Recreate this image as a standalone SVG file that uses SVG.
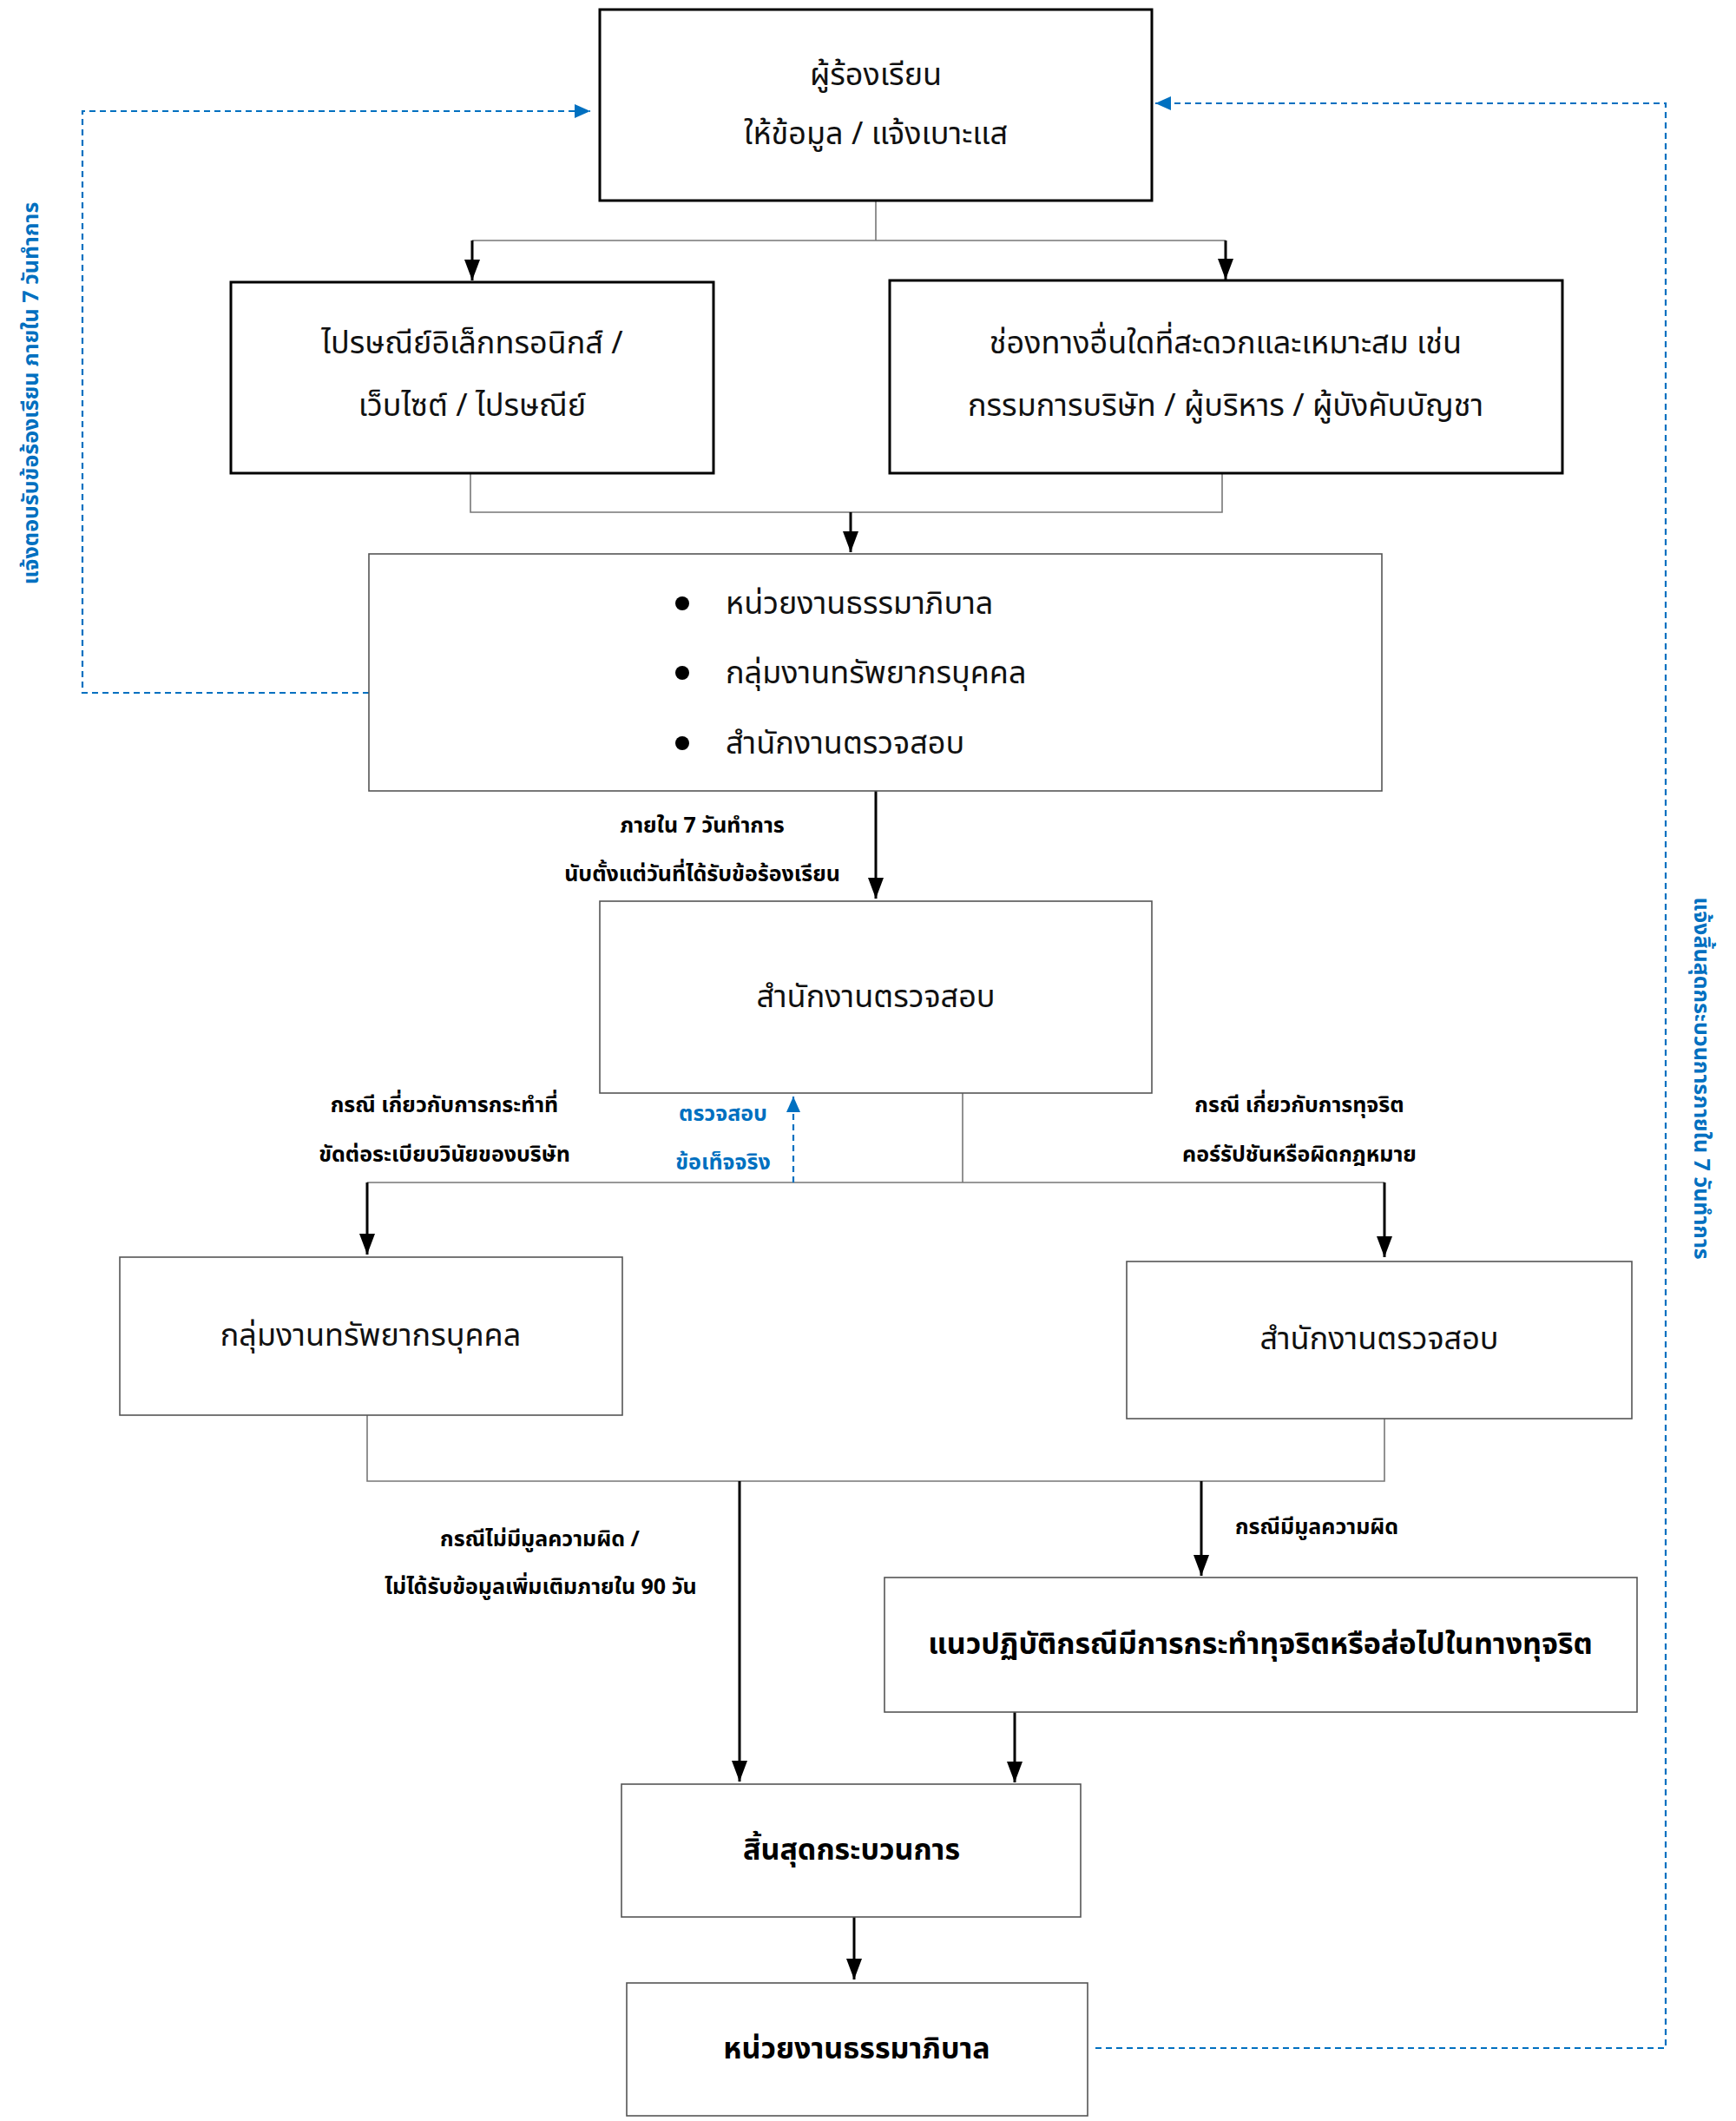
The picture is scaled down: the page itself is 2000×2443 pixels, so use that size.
<svg xmlns="http://www.w3.org/2000/svg" width="2000" height="2443" viewBox="0 0 2000 2443">
<defs>
<style>
.thick{fill:#fff;stroke:#000;stroke-width:3}
.thin{fill:#fff;stroke:#555;stroke-width:1.6}
.conn{fill:none;stroke:#777;stroke-width:1.6}
.arr{fill:none;stroke:#000;stroke-width:3}
.dash{fill:none;stroke:#0070C0;stroke-width:2.2;stroke-dasharray:7 5}
text{font-family:"Noto Sans Thai","Noto Sans","DejaVu Sans",sans-serif;text-anchor:middle;dominant-baseline:central}
.t{font-size:36px;fill:#111}
.b{font-size:34px;font-weight:bold;fill:#000}
.l{font-size:25px;font-weight:bold;fill:#000}
.bl{font-size:25px;font-weight:bold;fill:#0070C0}
.left{text-anchor:start}
</style>
<marker id="ah" markerUnits="userSpaceOnUse" markerWidth="24" markerHeight="18" refX="24" refY="9" orient="auto" viewBox="0 0 24 18">
<path d="M0,0 L24,9 L0,18 Z" fill="#000"/>
</marker>
<marker id="bh" markerUnits="userSpaceOnUse" markerWidth="18" markerHeight="16" refX="18" refY="8" orient="auto" viewBox="0 0 18 16">
<path d="M0,0 L18,8 L0,16 Z" fill="#0070C0"/>
</marker>
</defs>
<rect width="2000" height="2443" fill="#fff"/>

<g id="connectors">
<path class="conn" d="M1009,231 V277 M544,277 H1412"/>
<path class="arr" d="M544,277 V323" marker-end="url(#ah)"/>
<path class="arr" d="M1412,277 V322" marker-end="url(#ah)"/>
<path class="conn" d="M542,545 V590 H1408 V545"/>
<path class="arr" d="M980,590 V636" marker-end="url(#ah)"/>
<path class="dash" d="M425,798 H95 V128 H680" marker-end="url(#bh)"/>
<path class="arr" d="M1009,911 V1035" marker-end="url(#ah)"/>
<path class="conn" d="M1109,1259 V1362 M423,1362 H1595"/>
<path class="arr" d="M423,1362 V1445" marker-end="url(#ah)"/>
<path class="arr" d="M1595,1362 V1448" marker-end="url(#ah)"/>
<path class="dash" d="M914,1362 V1263" marker-end="url(#bh)"/>
<path class="conn" d="M423,1630 V1706 H1595 V1634"/>
<path class="arr" d="M852,1706 V2052" marker-end="url(#ah)"/>
<path class="arr" d="M1384,1706 V1815" marker-end="url(#ah)"/>
<path class="arr" d="M1169,1972 V2053" marker-end="url(#ah)"/>
<path class="arr" d="M984,2208 V2280" marker-end="url(#ah)"/>
<path class="dash" d="M1262,2359 H1919 V119 H1331" marker-end="url(#bh)"/>
</g>

<g id="n-complainant">
<rect class="thick" x="691" y="11" width="636" height="220"/>
<text class="t" x="1009" y="87">ผู้ร้องเรียน</text>
<text class="t" x="1009" y="155">ให้ข้อมูล / แจ้งเบาะแส</text>
</g>

<g id="n-email">
<rect class="thick" x="266" y="325" width="556" height="220"/>
<text class="t" x="544" y="396">ไปรษณีย์อิเล็กทรอนิกส์ /</text>
<text class="t" x="544" y="468">เว็บไซต์ / ไปรษณีย์</text>
</g>

<g id="n-other">
<rect class="thick" x="1025" y="323" width="775" height="222"/>
<text class="t" x="1412" y="396">ช่องทางอื่นใดที่สะดวกและเหมาะสม เช่น</text>
<text class="t" x="1412" y="468">กรรมการบริษัท / ผู้บริหาร / ผู้บังคับบัญชา</text>
</g>

<g id="n-units">
<rect class="thin" x="425" y="638" width="1167" height="273"/>
<circle cx="786" cy="695" r="8" fill="#000"/>
<circle cx="786" cy="775" r="8" fill="#000"/>
<circle cx="786" cy="856" r="8" fill="#000"/>
<text class="t left" x="836" y="696">หน่วยงานธรรมาภิบาล</text>
<text class="t left" x="836" y="776">กลุ่มงานทรัพยากรบุคคล</text>
<text class="t left" x="836" y="857">สำนักงานตรวจสอบ</text>
</g>

<g id="lbl-7days">
<text class="l" x="809" y="951">ภายใน 7 วันทำการ</text>
<text class="l" x="809" y="1007">นับตั้งแต่วันที่ได้รับข้อร้องเรียน</text>
</g>

<g id="n-audit">
<rect class="thin" x="691" y="1038" width="636" height="221"/>
<text class="t" x="1009" y="1149">สำนักงานตรวจสอบ</text>
</g>

<g id="lbl-cases">
<text class="l" x="512" y="1273">กรณี เกี่ยวกับการกระทำที่</text>
<text class="l" x="512" y="1330">ขัดต่อระเบียบวินัยของบริษัท</text>
<text class="l" x="1497" y="1273">กรณี เกี่ยวกับการทุจริต</text>
<text class="l" x="1497" y="1330">คอร์รัปชันหรือผิดกฎหมาย</text>
<text class="bl" x="833" y="1283">ตรวจสอบ</text>
<text class="bl" x="833" y="1339">ข้อเท็จจริง</text>
</g>

<g id="n-hr">
<rect class="thin" x="138" y="1448" width="579" height="182"/>
<text class="t" x="427" y="1539">กลุ่มงานทรัพยากรบุคคล</text>
</g>

<g id="n-audit2">
<rect class="thin" x="1298" y="1453" width="582" height="181"/>
<text class="t" x="1589" y="1543">สำนักงานตรวจสอบ</text>
</g>

<g id="lbl-results">
<text class="l" x="622" y="1773">กรณีไม่มีมูลความผิด /</text>
<text class="l" x="623" y="1828">ไม่ได้รับข้อมูลเพิ่มเติมภายใน 90 วัน</text>
<text class="l left" x="1423" y="1759">กรณีมีมูลความผิด</text>
</g>

<g id="n-guideline">
<rect class="thin" x="1019" y="1817" width="867" height="155"/>
<text class="b" x="1452" y="1894">แนวปฏิบัติกรณีมีการกระทำทุจริตหรือส่อไปในทางทุจริต</text>
</g>

<g id="n-end">
<rect class="thin" x="716" y="2055" width="529" height="153"/>
<text class="b" x="981" y="2131">สิ้นสุดกระบวนการ</text>
</g>

<g id="n-gov">
<rect class="thin" x="722" y="2284" width="531" height="153"/>
<text class="b" x="987" y="2360">หน่วยงานธรรมาภิบาล</text>
</g>

<g id="lbl-side">
<text class="bl" transform="translate(36,453) rotate(-90)">แจ้งตอบรับข้อร้องเรียน ภายใน 7 วันทำการ</text>
<text class="bl" transform="translate(1960,1242) rotate(90)">แจ้งสิ้นสุดกระบวนการภายใน 7 วันทำการ</text>
</g>
</svg>
